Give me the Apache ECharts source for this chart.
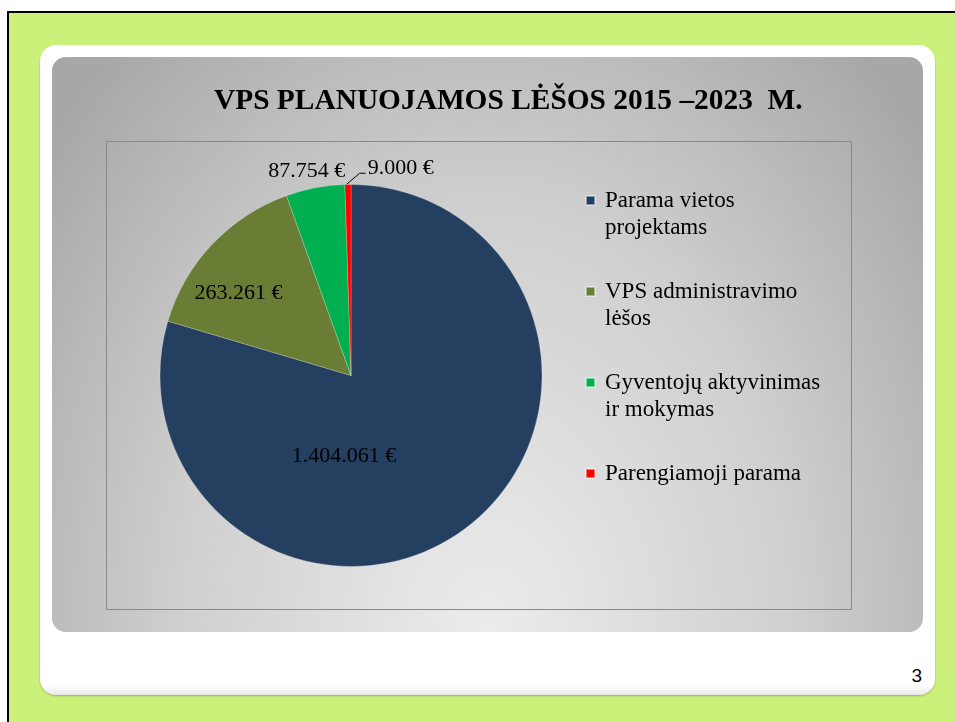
<!DOCTYPE html>
<html>
<head>
<meta charset="utf-8">
<title>VPS planuojamos lėšos</title>
<script src="https://cdn.jsdelivr.net/npm/echarts@6/dist/echarts.min.js"></script>
<style>
    html, body {
        margin: 0;
        padding: 0;
        width: 955px;
        height: 722px;
        overflow: hidden;
        background: #ffffff;
    }
    .frame {
        position: absolute;
        left: 7px;
        top: 11px;
        width: 960px;
        height: 720px;
        border-left: 2px solid #000;
        border-top: 2px solid #000;
        background: #ccf17b;
    }
    .card {
        position: absolute;
        left: 40px;
        top: 45px;
        width: 895px;
        height: 650px;
        border-radius: 16px;
        background: linear-gradient(to bottom, #ffffff 0%, #ffffff 98.6%, #e6e6e6 100%);
        box-shadow: 0 1px 2px rgba(0, 0, 0, 0.25);
    }
    .panel {
        position: absolute;
        left: 52px;
        top: 57px;
        width: 871px;
        height: 575px;
        border-radius: 14px;
        background: radial-gradient(ellipse 65% 135% at 50% 100%, #ececec 0%, #cfcfcf 55%, #a7a7a7 100%);
    }
    .pagenum {
        position: absolute;
        right: 33px;
        top: 666px;
        font-family: 'Liberation Sans', Arial, sans-serif;
        font-size: 19px;
        line-height: 19px;
        color: #000;
    }
    #chart {
        position: absolute;
        left: 0;
        top: 0;
        width: 955px;
        height: 722px;
    }
</style>
</head>
<body>
<div class="frame"></div>
<div class="card"></div>
<div class="panel"></div>
<div class="pagenum">3</div>
<div id="chart"></div>
<script>
// Chart data
const categories = [
    'Parama vietos projektams',
    'VPS administravimo lėšos',
    'Gyventojų aktyvinimas ir mokymas',
    'Parengiamoji parama'
];
const values = [1404061, 263261, 87754, 9000];
const legendLines = [
    ['Parama vietos', 'projektams'],
    ['VPS administravimo', 'lėšos'],
    ['Gyventojų aktyvinimas', 'ir mokymas'],
    ['Parengiamoji parama', '']
];
const titleText = 'VPS PLANUOJAMOS LĖŠOS 2015 –2023  M.';

const sliceColors = ['#253f60', '#697d35', '#00b050', '#ff0000'];
const labelPlacement = ['inside', 'inside', 'outside', 'outside'];
const serif = "'Liberation Serif', 'Times New Roman', serif";

// 1404061 -> "1.404.061 €"
function formatEuro(v) {
    return String(v).replace(/\B(?=(\d{3})+(?!\d))/g, '.') + ' €';
}

const chart = echarts.init(document.getElementById('chart'), null, { renderer: 'canvas' });

const pieData = categories.map((name, i) => ({
    name: name,
    value: values[i],
    itemStyle: { color: sliceColors[i] },
    label: { position: labelPlacement[i] },
    labelLine: { show: i === 3 }
}));

const option = {
    animation: false,
    backgroundColor: 'transparent',
    title: {
        text: titleText,
        left: 214,
        top: 87,
        padding: 0,
        textStyle: {
            fontFamily: serif,
            fontSize: 29.4,
            fontWeight: 'bold',
            color: '#000'
        }
    },
    legend: {
        orient: 'vertical',
        left: 585,
        top: 160,
        padding: 0,
        itemGap: 10,
        itemWidth: 9,
        itemHeight: 9,
        icon: 'rect',
        data: categories,
        // empty first line keeps the marker level with the first text line
        formatter: function(name) {
            const idx = categories.indexOf(name);
            return '\n' + legendLines[idx].join('\n');
        },
        textStyle: {
            fontFamily: serif,
            fontSize: 23,
            lineHeight: 27,
            color: '#000',
            padding: [0, 0, 0, 5]
        }
    },
    graphic: [{
        type: 'rect',
        z: -1,
        shape: { x: 106.5, y: 141.5, width: 745, height: 468 },
        style: { fill: 'none', stroke: '#898989', lineWidth: 1 }
    }],
    series: [{
        type: 'pie',
        center: [351, 375.5],
        radius: [0, 191],
        startAngle: 90,
        clockwise: true,
        avoidLabelOverlap: false,
        data: pieData,
        itemStyle: {
            borderColor: 'rgba(255, 255, 255, 0.45)',
            borderWidth: 0.5
        },
        label: {
            show: true,
            color: '#000',
            fontFamily: serif,
            fontSize: 22,
            formatter: function(p) {
                return formatEuro(p.value);
            }
        },
        labelLine: {
            length: 12,
            length2: 6,
            lineStyle: { color: '#000', width: 1 }
        },
        labelLayout: function(params) {
            const r = params.rect;
            switch (params.dataIndex) {
                case 0:
                    return { dx: -66, dy: 2 };
                case 1:
                    return { dx: -41, dy: -15 };
                case 2:
                    return {
                        x: r.x + r.width - 6,
                        y: r.y - 13,
                        align: 'right',
                        verticalAlign: 'middle'
                    };
                default:
                    return {
                        x: r.x + 23,
                        y: r.y - 16,
                        align: 'left',
                        verticalAlign: 'middle',
                        labelLinePoints: [
                            [r.x + 2, r.y],
                            [r.x + 15, r.y - 11],
                            [r.x + 21, r.y - 11]
                        ]
                    };
            }
        },
        emphasis: { disabled: true }
    }]
};

chart.setOption(option);
</script>
</body>
</html>
